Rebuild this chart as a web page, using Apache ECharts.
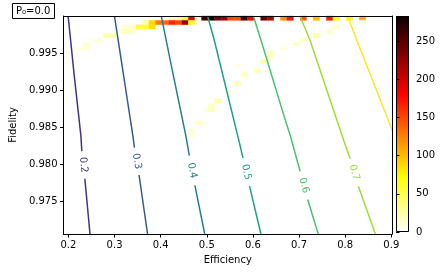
<!DOCTYPE html>
<html><head><meta charset="utf-8">
<script src="https://cdn.jsdelivr.net/npm/echarts@6/dist/echarts.min.js"></script>
<style>html,body{margin:0;padding:0;background:#fff}#c{width:442px;height:272px}</style>
</head><body><div id="c"></div>
<script>
// ---- axis ranges & ticks ----
const effRange = [0.1894, 0.9015];
const fidRange = [0.97065, 1.00003];
const nBins = 50;
const xTicks = [0.2, 0.3, 0.4, 0.5, 0.6, 0.7, 0.8, 0.9];
const yTicks = [0.975, 0.98, 0.985, 0.99, 0.995];
const cbarTicks = [0, 50, 100, 150, 200, 250];
const cbarMax = 283;

// ---- 2D histogram (bin index along efficiency, row index from top along fidelity, count) ----
const histEffBin = [15,16,17,18,19,20,21,22,23,24,25,26,27,28,30,31,33,34,36,38,40,41,43,45,47,
  12,13,14,15,16,17,18,19,45,
  9,10,11,12,13,41,
  8,9,10,40,
  6,7,38,
  4,5,36,
  3,35,
  1,2,3,33,
  31,31,30,26,29,27,26,25,23,22,21,22,20,21,19,19];
const histFidRow = [0,0,0,0,0,0,0,0,0,0,0,0,0,0,0,0,0,0,0,0,0,0,0,0,0,
  1,1,1,1,1,1,1,1,1,
  2,2,2,2,2,2,
  3,3,3,3,
  4,4,4,
  5,5,5,
  6,6,
  7,7,7,7,
  8,9,10,11,12,13,15,17,19,20,21,21,24,24,26,27];
const histCount = [8,15,25,60,185,15,262,283,235,225,150,148,258,178,245,210,118,172,140,100,170,72,72,105,6,
  20,88,128,135,165,150,220,60,8,
  12,15,55,55,85,15,
  10,20,15,15,
  22,25,25,
  6,12,15,
  12,15,
  4,5,10,8,
  20,15,25,6,20,18,20,6,25,15,6,20,15,6,12,6];

// ---- contour lines [efficiency, fidelity]; null = label gap ----
const contourLevels = [0.2, 0.3, 0.4, 0.5, 0.6, 0.7, 0.8];
const contour02 = [[0.1994,1.0],[0.2128,0.9919],[0.2270,0.9839],[0.2291,0.9818],null,[0.2356,0.9781],[0.2468,0.97065]];
const contour03 = [[0.2999,1.0],[0.3199,0.9919],[0.3397,0.9839],[0.3431,0.9823],null,[0.3531,0.9786],[0.3716,0.97065]];
const contour04 = [[0.4013,1.0],[0.4279,0.9919],[0.4545,0.9839],[0.4621,0.9812],null,[0.4742,0.9772],[0.4955,0.97065]];
const contour05 = [[0.5019,1.0],[0.5161,0.9968],[0.5693,0.9833],[0.5784,0.9809],null,[0.5927,0.9771],[0.6173,0.97065]];
const contour06 = [[0.6012,1.0],[0.6173,0.9968],[0.6677,0.9865],[0.6811,0.9839],[0.7023,0.9791],null,[0.7187,0.9753],[0.7415,0.97065]];
const contour07 = [[0.7023,1.0],[0.7236,0.9968],[0.7967,0.9833],[0.8108,0.9808],null,[0.8286,0.9771],[0.8654,0.97065]];
const contour08 = [[0.8052,1.0],[0.8250,0.9968],[0.9060,0.9840]];
const contours = [contour02, contour03, contour04, contour05, contour06, contour07, contour08];

// ---- styles ----
const FONT = 'DejaVu Sans';
const lineColors = ['#46327e','#365c8d','#277f8e','#1fa187','#4ac16d','#a0da39','#fde725'];

function hotR(t) {
  t = Math.max(0, Math.min(1, t));
  const s = 1 - t;
  const r = s < 0.365079 ? 0.0416 + (1 - 0.0416) * s / 0.365079 : 1;
  const g = s < 0.365079 ? 0 : (s < 0.746032 ? (s - 0.365079) / (0.746032 - 0.365079) : 1);
  const b = s < 0.746032 ? 0 : (s - 0.746032) / (1 - 0.746032);
  const h = v => Math.round(v * 255);
  return 'rgb(' + h(r) + ',' + h(g) + ',' + h(b) + ')';
}

const bw = (effRange[1] - effRange[0]) / nBins;
const bh = (fidRange[1] - fidRange[0]) / nBins;
const heatData = histCount.map((c, i) => [
  effRange[0] + (histEffBin[i] + 0.5) * bw,
  fidRange[1] - (histFidRow[i] + 0.5) * bh,
  c
]);

const series = [];
series.push({
  type: 'custom', xAxisIndex: 0, yAxisIndex: 0, z: 1, silent: true,
  data: heatData,
  renderItem: (params, api) => {
    const e = api.value(0), f = api.value(1);
    const p0 = api.coord([e - bw / 2, f + bh / 2]);
    const p1 = api.coord([e + bw / 2, f - bh / 2]);
    return { type: 'rect',
      shape: { x: p0[0], y: p0[1], width: p1[0] - p0[0], height: p1[1] - p0[1] },
      style: { fill: hotR(api.value(2) / cbarMax), stroke: hotR(api.value(2) / cbarMax), lineWidth: 0.3 } };
  }
});

contours.forEach((pts, k) => {
  let seg = [];
  const segs = [];
  pts.forEach(p => { if (p === null) { segs.push(seg); seg = []; } else seg.push(p); });
  segs.push(seg);
  segs.forEach(s => series.push({
    type: 'line', xAxisIndex: 0, yAxisIndex: 0, z: 3, data: s, showSymbol: false, symbol: 'none',
    clip: true, silent: true, lineStyle: { color: lineColors[k], width: 1.5 }
  }));
});

const labelData = [];
contours.forEach((pts, k) => {
  const g = pts.indexOf(null);
  if (g < 0) return;
  const a = pts[g - 1], b = pts[g + 1];
  labelData.push([(a[0] + b[0]) / 2, (a[1] + b[1]) / 2, k]);
});
series.push({
  type: 'custom', xAxisIndex: 0, yAxisIndex: 0, z: 4, silent: true, data: labelData,
  renderItem: (params, api) => {
    const k = api.value(2);
    const pts = contours[k];
    const g = pts.indexOf(null);
    const pa = api.coord(pts[g - 1]), pb = api.coord(pts[g + 1]);
    const ang = Math.atan2(pb[1] - pa[1], pb[0] - pa[0]);
    return { type: 'text', x: (pa[0] + pb[0]) / 2, y: (pa[1] + pb[1]) / 2, rotation: -ang,
      style: { text: contourLevels[k].toFixed(1), fill: lineColors[k], font: '10px "' + FONT + '"',
        align: 'center', verticalAlign: 'middle' } };
  }
});

// colorbar
const stops = [];
for (let i = 0; i <= 40; i++) stops.push({ offset: i / 40, color: hotR(i / 40) });
series.push({
  type: 'custom', xAxisIndex: 2, yAxisIndex: 2, z: 2, silent: true, data: [[0, 0]],
  renderItem: (params, api) => {
    const p0 = api.coord([0, cbarMax]);
    const p1 = api.coord([1, 0]);
    const x0 = Math.round(p0[0]), y0 = Math.round(p0[1]), x1 = Math.round(p1[0]), y1 = Math.round(p1[1]);
    return { type: 'group', children: [
      { type: 'rect', shape: { x: x0, y: y0, width: x1 - x0, height: y1 - y0 },
        style: { fill: new echarts.graphic.LinearGradient(0, 1, 0, 0, stops) } },
      { type: 'rect', shape: { x: x0 + 0.5, y: y0 + 0.5, width: x1 - x0 - 1, height: y1 - y0 - 1 },
        style: { fill: 'none', stroke: '#000', lineWidth: 1 } }
    ] };
  }
});

const axLine = { show: true, onZero: false, lineStyle: { color: '#000', width: 1 } };
const tickStyle = { color: '#000', width: 1 };
const lblStyle = { fontSize: 10, color: '#000', fontFamily: FONT };

const option = {
  animation: false,
  backgroundColor: '#fff',
  textStyle: { fontFamily: FONT },
  title: {
    text: 'P\u2080=0.0', left: 12, top: 3, padding: [3, 4, 3, 4],
    borderColor: '#000', borderWidth: 1, backgroundColor: '#fff',
    textStyle: { fontSize: 10, fontWeight: 'normal', color: '#000', fontFamily: FONT }
  },
  grid: [
    { left: 57, top: 16, width: 335, height: 218, containLabel: false },
    { left: 396, top: 16, width: 13, height: 216, containLabel: false }
  ],
  xAxis: [
    { type: 'value', gridIndex: 0, min: effRange[0], max: effRange[1], position: 'bottom', z: 10,
      axisLine: axLine,
      axisTick: { show: true, customValues: xTicks, length: 3.5, lineStyle: tickStyle },
      axisLabel: Object.assign({ customValues: xTicks, margin: 6, formatter: v => v.toFixed(1) }, lblStyle),
      splitLine: { show: false },
      name: 'Efficiency', nameLocation: 'middle', nameGap: 21, nameTextStyle: lblStyle },
    { type: 'value', gridIndex: 0, min: 0, max: 1, position: 'top', z: 10, axisLine: axLine,
      axisTick: { show: false }, axisLabel: { show: false }, splitLine: { show: false } },
    { type: 'value', gridIndex: 1, min: 0, max: 1, show: false }
  ],
  yAxis: [
    { type: 'value', gridIndex: 0, min: fidRange[0], max: fidRange[1], position: 'left', z: 10,
      axisLine: axLine,
      axisTick: { show: true, customValues: yTicks, length: 3.5, lineStyle: tickStyle },
      axisLabel: Object.assign({ customValues: yTicks, margin: 6, formatter: v => v.toFixed(3) }, lblStyle),
      splitLine: { show: false },
      name: 'Fidelity', nameLocation: 'middle', nameGap: 40, nameTextStyle: lblStyle },
    { type: 'value', gridIndex: 0, min: 0, max: 1, position: 'right', z: 10, axisLine: axLine,
      axisTick: { show: false }, axisLabel: { show: false }, splitLine: { show: false } },
    { type: 'value', gridIndex: 1, min: 0, max: cbarMax, position: 'right', z: 10,
      axisLine: { show: false },
      axisTick: { show: true, customValues: cbarTicks, length: 3.5, lineStyle: tickStyle },
      axisLabel: Object.assign({ customValues: cbarTicks, margin: 7 }, lblStyle),
      splitLine: { show: false } }
  ],
  series: series
};
const chart = echarts.init(document.getElementById('c'), null, { renderer: 'canvas' });
chart.setOption(option);
</script>
</body></html>
